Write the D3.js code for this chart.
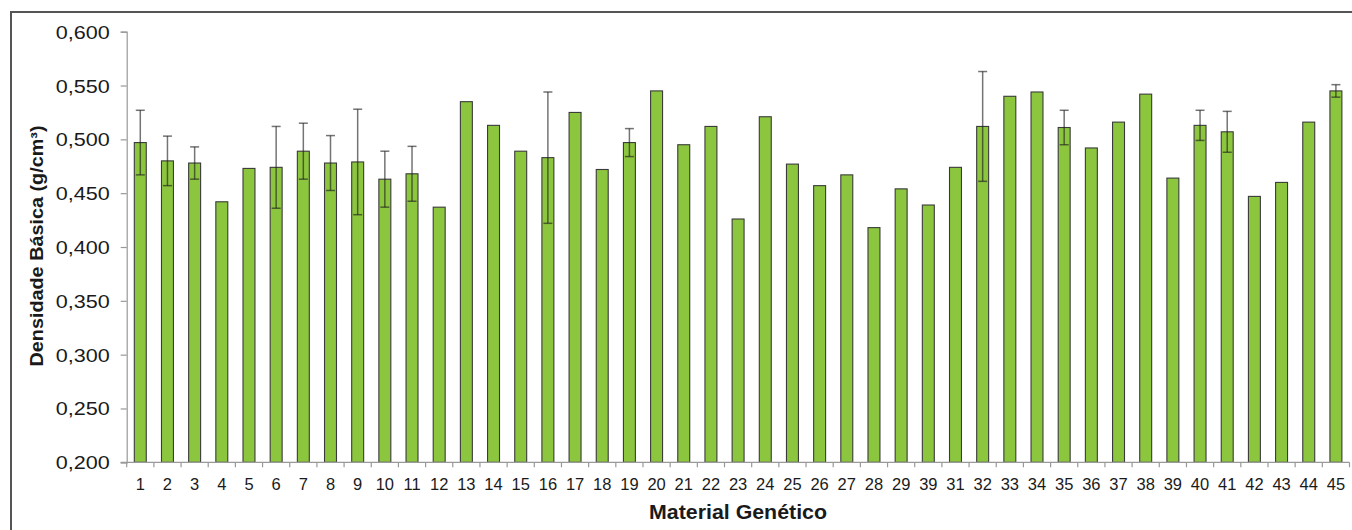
<!DOCTYPE html>
<html>
<head>
<meta charset="utf-8">
<script src="https://cdn.jsdelivr.net/npm/d3@7"></script>
<style>
  html, body { margin: 0; padding: 0; background: #fff; }
  svg { display: block; }
  text { font-family: "Liberation Sans", Arial, Helvetica, sans-serif; fill: #1a1a1a; }
</style>
</head>
<body>
<svg id="chart" width="1352" height="530"></svg>
<script>
// Genetic material identifiers (as printed on the axis)
const categories = ["1","2","3","4","5","6","7","8","9","10","11","12","13","14","15",
  "16","17","18","19","20","21","22","23","24","25","26","27","28","29","39",
  "31","32","33","34","35","36","37","38","39","40","41","42","43","44","45"];

// Mean basic density (g/cm³)
const density = [0.497,0.480,0.478,0.442,0.473,0.474,0.489,0.478,0.479,0.463,0.468,0.437,0.535,0.513,0.489,
  0.483,0.525,0.472,0.497,0.545,0.495,0.512,0.426,0.521,0.477,0.457,0.467,0.418,0.454,0.439,
  0.474,0.512,0.540,0.544,0.511,0.492,0.516,0.542,0.464,0.513,0.507,0.447,0.460,0.516,0.545];

// Standard deviation (0 = no error bar shown)
const deviation = [0.030,0.023,0.015,0,0,0.038,0.026,0.0255,0.049,0.026,0.0255,0,0,0,0,
  0.061,0,0,0.013,0,0,0,0,0,0,0,0,0,0,0,
  0,0.051,0,0,0.016,0,0,0,0,0.014,0.019,0,0,0,0.0058];

// Y axis tick values
const yTicks = [0.200,0.250,0.300,0.350,0.400,0.450,0.500,0.550,0.600];

const svg = d3.select("#chart");
const plotLeft = 126.7, plotRight = 1349.5, plotTop = 31.7, plotBottom = 462.3;

// Outer frame
svg.append("rect")
  .attr("x", 11).attr("y", 12)
  .attr("width", 1360).attr("height", 540)
  .attr("fill", "none").attr("stroke", "#555").attr("stroke-width", 2);

const idx = categories.map((d, i) => i);
const x = d3.scaleBand().domain(idx).range([plotLeft, plotRight])
  .paddingInner(0.56).paddingOuter(0.28);
const y = d3.scaleLinear().domain([0.2, 0.6]).range([plotBottom, plotTop]);

const fmt = v => d3.format(".3f")(v).replace(".", ",");

// Y axis
const yAxis = svg.append("g").attr("transform", `translate(${plotLeft},0)`)
  .call(d3.axisLeft(y).tickValues(yTicks).tickSize(6).tickPadding(11).tickFormat(fmt));
yAxis.select(".domain").attr("stroke", "#999").attr("stroke-width", 1.2);
yAxis.selectAll(".tick line").attr("stroke", "#999").attr("stroke-width", 1.2);
yAxis.selectAll(".tick text")
  .attr("font-size", 18).attr("fill", "#1a1a1a")
  .attr("textLength", 54).attr("lengthAdjust", "spacingAndGlyphs")
  .attr("dy", "0.36em");

// Bars
svg.append("g").selectAll("rect")
  .data(idx)
  .join("rect")
  .attr("x", i => x(i))
  .attr("y", i => y(density[i]))
  .attr("width", x.bandwidth())
  .attr("height", i => y(0.2) - y(density[i]))
  .attr("fill", "#8cc63e")
  .attr("stroke", "#3a3a3a")
  .attr("stroke-width", 1.1);

// Error bars
const eb = svg.append("g").attr("stroke", "#1e1e1e").attr("stroke-opacity", 0.62).attr("stroke-width", 1.5);
idx.filter(i => deviation[i] > 0).forEach(i => {
  const cx = x(i) + x.bandwidth() / 2;
  const y1 = y(density[i] + deviation[i]);
  const y0 = y(density[i] - deviation[i]);
  eb.append("line").attr("x1", cx).attr("x2", cx).attr("y1", y1).attr("y2", y0);
  eb.append("line").attr("x1", cx - 4.5).attr("x2", cx + 4.5).attr("y1", y1).attr("y2", y1);
  eb.append("line").attr("x1", cx - 4.5).attr("x2", cx + 4.5).attr("y1", y0).attr("y2", y0);
});

// X axis
const xg = svg.append("g");
xg.append("line")
  .attr("x1", plotLeft - 6).attr("x2", plotRight)
  .attr("y1", plotBottom).attr("y2", plotBottom)
  .attr("stroke", "#999").attr("stroke-width", 1.2);
xg.selectAll("line.tick")
  .data(d3.range(categories.length + 1))
  .join("line")
  .attr("class", "tick")
  .attr("x1", k => plotLeft + k * x.step()).attr("x2", k => plotLeft + k * x.step())
  .attr("y1", plotBottom).attr("y2", plotBottom + 5)
  .attr("stroke", "#999").attr("stroke-width", 1.2);
xg.selectAll("text")
  .data(idx)
  .join("text")
  .attr("x", i => x(i) + x.bandwidth() / 2)
  .attr("y", 489.5)
  .attr("text-anchor", "middle")
  .attr("font-size", 16.5)
  .text(i => categories[i]);

// Axis titles
svg.append("text")
  .attr("x", 738).attr("y", 518.5)
  .attr("text-anchor", "middle")
  .attr("font-size", 19.5).attr("font-weight", "bold")
  .attr("textLength", 178).attr("lengthAdjust", "spacingAndGlyphs")
  .text("Material Genético");

svg.append("text")
  .attr("transform", "translate(42.5,246) rotate(-90)")
  .attr("text-anchor", "middle")
  .attr("font-size", 18).attr("font-weight", "bold")
  .attr("textLength", 241).attr("lengthAdjust", "spacingAndGlyphs")
  .text("Densidade Básica (g/cm³)");
</script>
</body>
</html>
